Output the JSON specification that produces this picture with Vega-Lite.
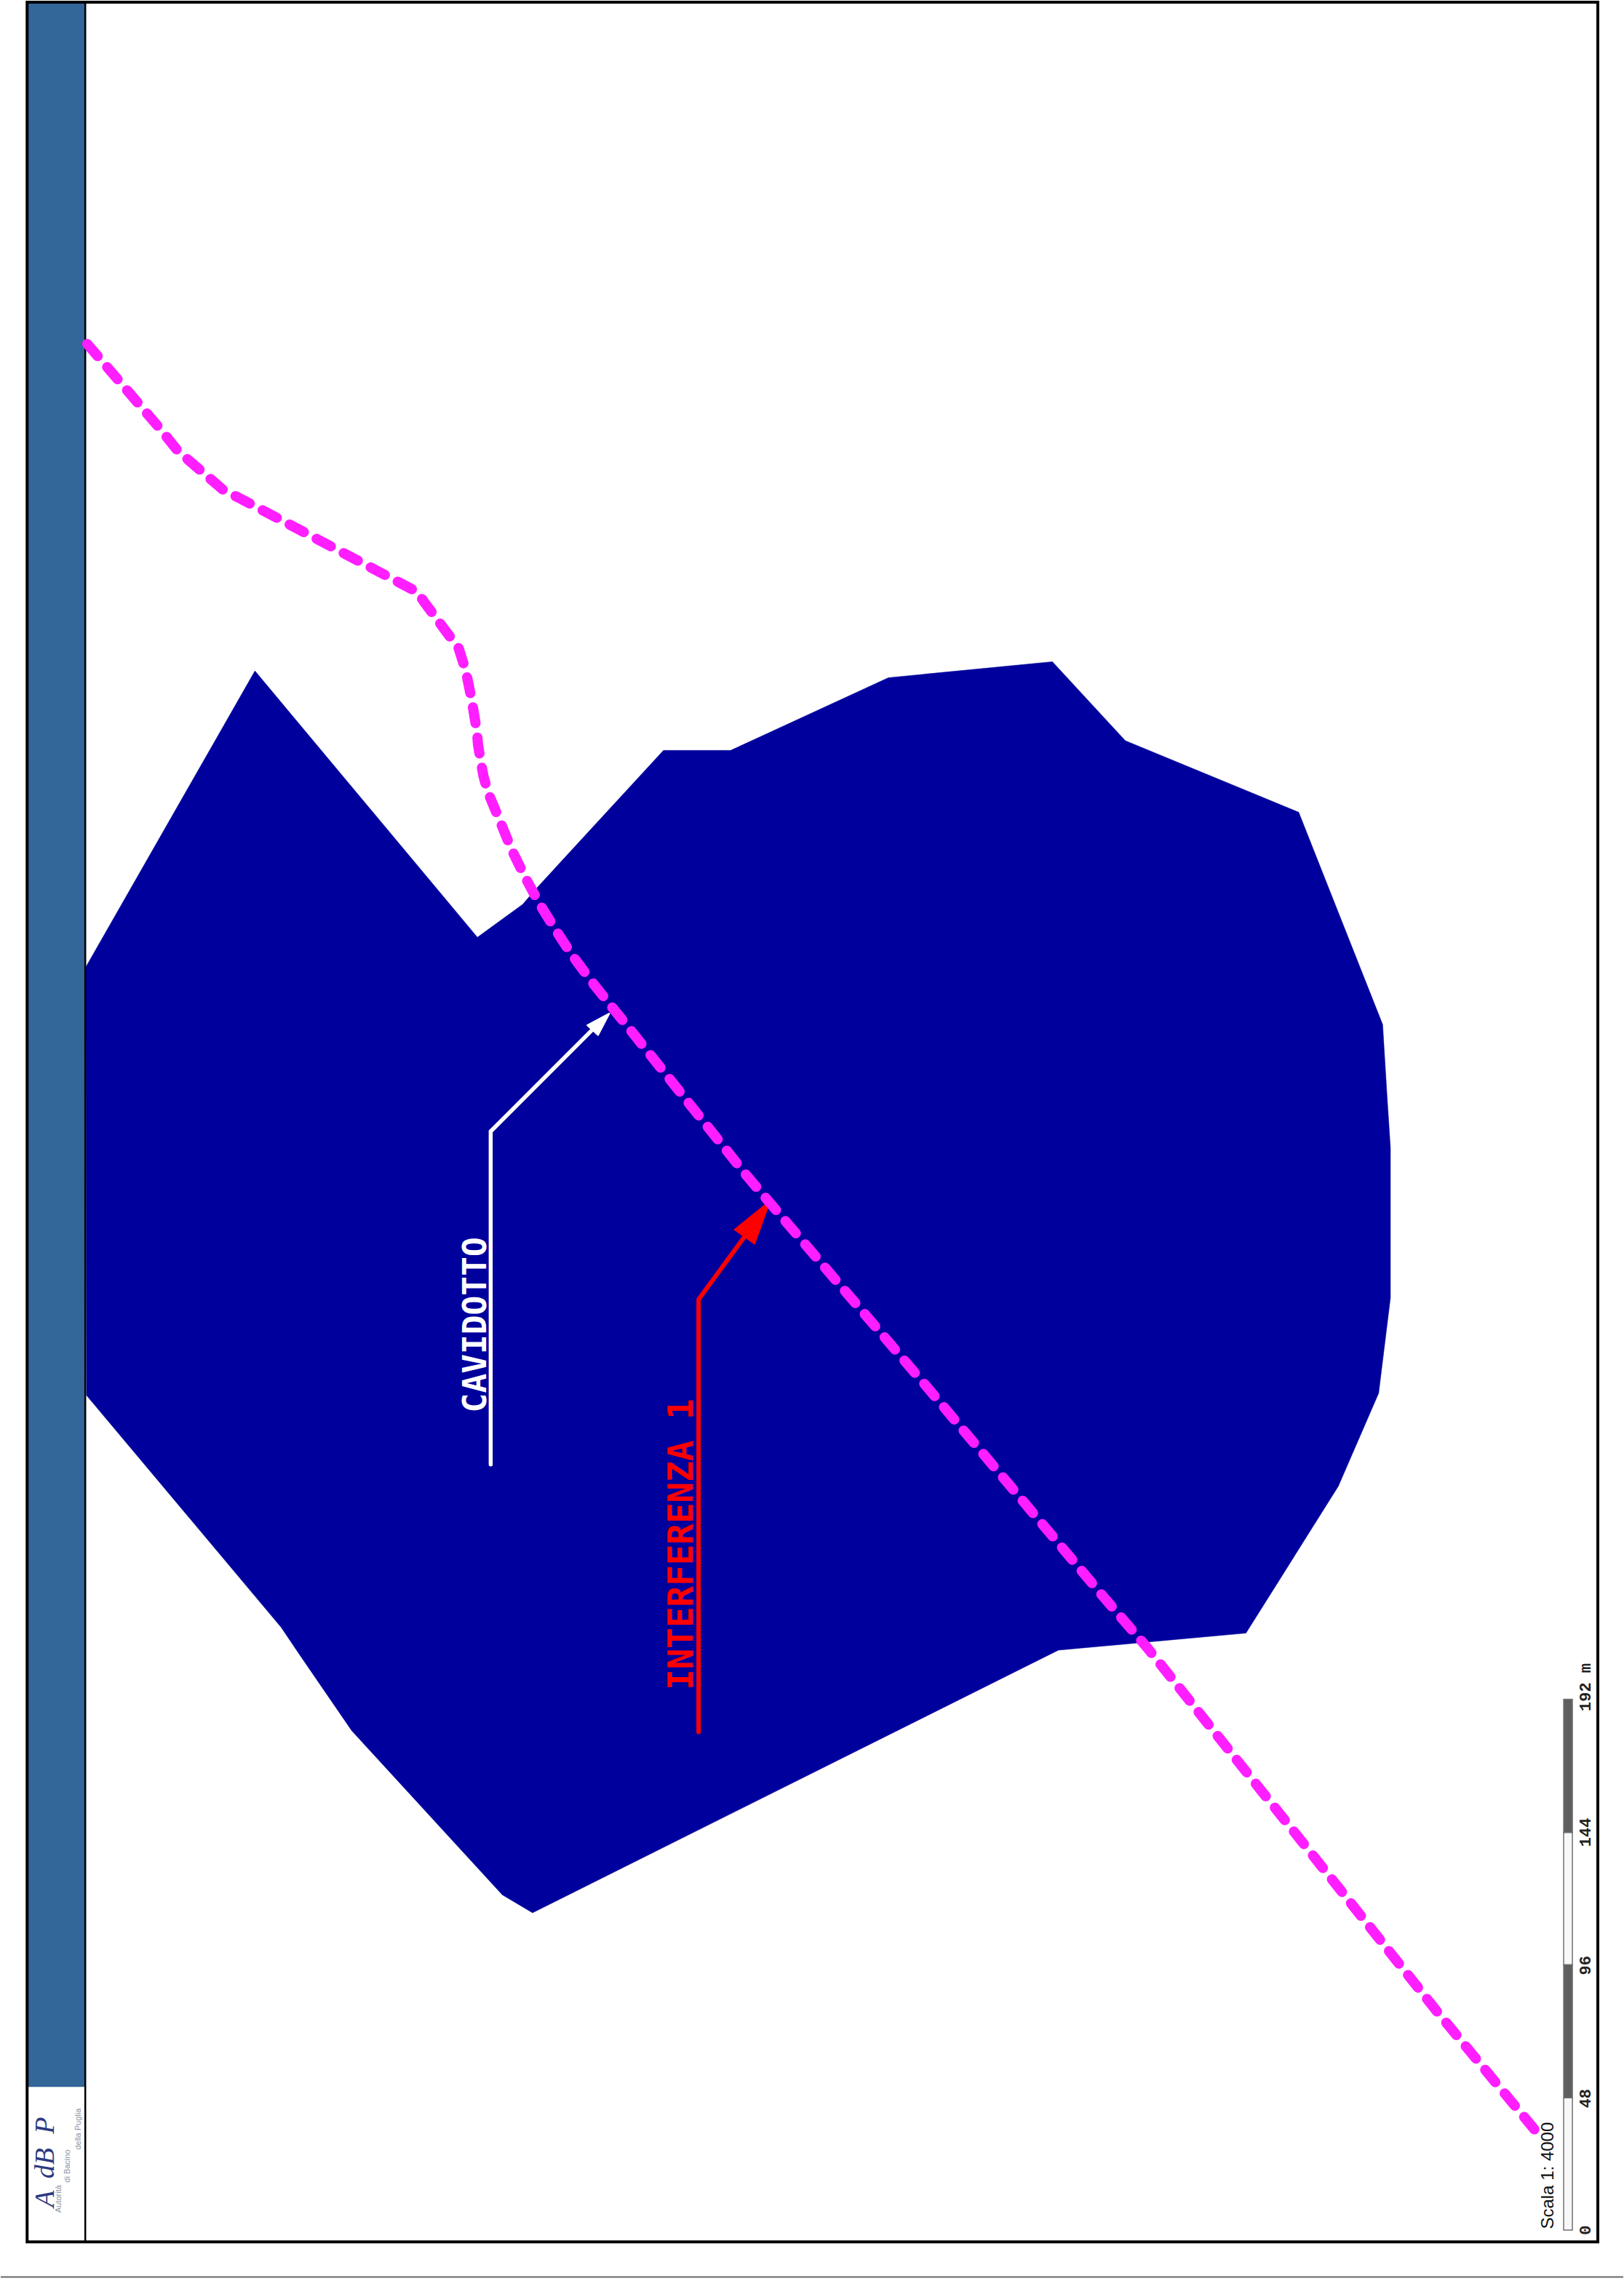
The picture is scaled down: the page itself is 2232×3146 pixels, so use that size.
{
"$schema":"https://vega.github.io/schema/vega-lite/v6.json",
"width":2232,"height":3146,"padding":0,
"autosize":{"type":"fit","contains":"padding"},
"background":"white",
"view":{"stroke":null},
"encoding":{
 "x":{"field":"x","type":"quantitative","axis":null,"scale":{"domain":[0,2232],"nice":false,"zero":false}},
 "y":{"field":"y","type":"quantitative","axis":null,"scale":{"domain":[0,3146],"nice":false,"zero":false,"reverse":true}}
},
"layer":[
 {"data":{"values":[{"part":"sidebar","x":38,"x2":116,"y":2,"y2":2868}]},
  "mark":{"type":"rect","fill":"#336699"},
  "encoding":{"x2":{"field":"x2"},"y2":{"field":"y2"}}},
 {"data":{"values":[
   {"i":0,"x":117,"y":1328},{"i":1,"x":349.7,"y":920.7},{"i":2,"x":655.7,"y":1287},{"i":3,"x":718,"y":1241.7},{"i":4,"x":736.7,"y":1220},{"i":5,"x":911.7,"y":1030},{"i":6,"x":1004,"y":1030},{"i":7,"x":1221,"y":930},{"i":8,"x":1446.7,"y":908},{"i":9,"x":1547,"y":1016.6},{"i":10,"x":1785.5,"y":1115},{"i":11,"x":1901,"y":1407},{"i":12,"x":1906.7,"y":1500},{"i":13,"x":1911.7,"y":1576.5},{"i":14,"x":1911.7,"y":1783},{"i":15,"x":1895.5,"y":1914},{"i":16,"x":1840,"y":2042},{"i":17,"x":1713,"y":2244},{"i":18,"x":1455,"y":2267.4},{"i":19,"x":731.6,"y":2628.6},{"i":20,"x":690,"y":2604},{"i":21,"x":482.7,"y":2378},{"i":22,"x":411,"y":2273.5},{"i":23,"x":385.7,"y":2236},{"i":24,"x":118,"y":1917},{"i":25,"x":117,"y":1328}]},
  "mark":{"type":"line","fill":"#00009c","stroke":"#00009c","strokeWidth":0.5},
  "encoding":{"order":{"field":"i","type":"quantitative"}}},
 {"data":{"values":[{"part":"frame","x":36.3,"x2":2197,"y":1,"y2":3081.3}]},
  "mark":{"type":"rect","fill":null,"stroke":"black","strokeWidth":4},
  "encoding":{"x2":{"field":"x2"},"y2":{"field":"y2"}}},
 {"data":{"values":[{"part":"divider","x":116.3,"y":0,"y2":3081}]},
  "mark":{"type":"rule","stroke":"black","strokeWidth":2.5},
  "encoding":{"y2":{"field":"y2"}}},
 {"data":{"values":[{"part":"footer","x":0,"x2":2232,"y":3129.5}]},
  "mark":{"type":"rule","stroke":"#666666","strokeWidth":2},
  "encoding":{"x2":{"field":"x2"}}},
 {"data":{"values":[{"i":0,"x":674,"y":2012},{"i":1,"x":674,"y":1554},{"i":2,"x":815,"y":1413}]},
  "mark":{"type":"line","stroke":"white","strokeWidth":5.5,"strokeCap":"round","strokeJoin":"miter"},
  "encoding":{"order":{"field":"i","type":"quantitative"}}},
 {"data":{"values":[{"i":0,"x":837.5,"y":1391.5},{"i":1,"x":806.7,"y":1408},{"i":2,"x":821.7,"y":1421.7},{"i":3,"x":837.5,"y":1391.5}]},
  "mark":{"type":"line","fill":"white","stroke":"white","strokeWidth":2,"strokeJoin":"round"},
  "encoding":{"order":{"field":"i","type":"quantitative"}}},
 {"data":{"values":[{"i":0,"x":960,"y":2380},{"i":1,"x":960,"y":1785},{"i":2,"x":1023,"y":1699}]},
  "mark":{"type":"line","stroke":"#ff0000","strokeWidth":6,"strokeCap":"round","strokeJoin":"miter"},
  "encoding":{"order":{"field":"i","type":"quantitative"}}},
 {"data":{"values":[{"i":0,"x":1058,"y":1650},{"i":1,"x":1009.5,"y":1689},{"i":2,"x":1037,"y":1708.5},{"i":3,"x":1058,"y":1650}]},
  "mark":{"type":"line","fill":"#ff0000","stroke":"#ff0000","strokeWidth":2,"strokeJoin":"round"},
  "encoding":{"order":{"field":"i","type":"quantitative"}}},
 {"data":{"values":[{"label":"CAVIDOTTO","x":655,"y":1820}]},
  "mark":{"type":"text","angle":270,"align":"center","baseline":"middle","font":"DejaVu Sans Mono","fontWeight":"bold","fontSize":44.5,"fill":"white"},
  "encoding":{"text":{"field":"label"}}},
 {"data":{"values":[{"label":"INTERFERENZA 1","x":938,"y":2122}]},
  "mark":{"type":"text","angle":270,"align":"center","baseline":"middle","font":"DejaVu Sans Mono","fontWeight":"bold","fontSize":47.5,"fill":"#ff0000"},
  "encoding":{"text":{"field":"label"}}},
 {"data":{"values":[{"seg":"a","x":2150,"x2":2162,"y":3065,"y2":2883},{"seg":"b","x":2150,"x2":2162,"y":2883,"y2":2700},{"seg":"a","x":2150,"x2":2162,"y":2700,"y2":2518},{"seg":"b","x":2150,"x2":2162,"y":2518,"y2":2335}]},
  "mark":{"type":"rect","stroke":"#707070","strokeWidth":1.5},
  "encoding":{"x2":{"field":"x2"},"y2":{"field":"y2"},
   "fill":{"field":"seg","type":"nominal","legend":null,"scale":{"domain":["a","b"],"range":["#f8f8f8","#5f5f5f"]}}}},
 {"data":{"values":[{"label":"0","x":2180,"y":3065},{"label":"48","x":2180,"y":2884},{"label":"96","x":2180,"y":2701},{"label":"144","x":2180,"y":2518},{"label":"192 m","x":2180,"y":2318.5}]},
  "mark":{"type":"text","angle":270,"align":"center","baseline":"middle","font":"Liberation Mono","fontWeight":"bold","fontSize":22,"fill":"#222222"},
  "encoding":{"text":{"field":"label"}}},
 {"data":{"values":[{"label":"Scala 1: 4000","x":2129,"y":2990}]},
  "mark":{"type":"text","angle":270,"align":"center","baseline":"middle","font":"Liberation Sans","fontSize":24,"fill":"#111111"},
  "encoding":{"text":{"field":"label"}}},
 {"data":{"values":[{"label":"A","x":62,"y":3022},{"label":"dB","x":62,"y":2973},{"label":"P","x":62,"y":2921}]},
  "mark":{"type":"text","angle":270,"align":"center","baseline":"middle","font":"Liberation Serif","fontStyle":"italic","fontSize":38,"fill":"#2b3a80"},
  "encoding":{"text":{"field":"label"}}},
 {"data":{"values":[{"label":"Autorità","x":80,"y":3022},{"label":"di Bacino","x":92,"y":2977},{"label":"della Puglia","x":107,"y":2926}]},
  "mark":{"type":"text","angle":270,"align":"center","baseline":"middle","font":"Liberation Sans","fontSize":11,"fill":"#8a93a3"},
  "encoding":{"text":{"field":"label"}}},
 {"data":{"values":[
   {"i":0,"x":119,"y":471},{"i":1,"x":217,"y":585},{"i":2,"x":243.5,"y":618},{"i":3,"x":308,"y":673.4},{"i":4,"x":326.5,"y":682},{"i":5,"x":572.6,"y":812},{"i":6,"x":584,"y":828},{"i":7,"x":630,"y":889.7},{"i":8,"x":639.6,"y":920},{"i":9,"x":648,"y":961},{"i":10,"x":655,"y":1004},{"i":11,"x":656.7,"y":1023},{"i":12,"x":660.7,"y":1047},{"i":13,"x":664,"y":1065},{"i":14,"x":670,"y":1087},{"i":15,"x":686.7,"y":1127},{"i":16,"x":703,"y":1167},{"i":17,"x":721.7,"y":1205},{"i":18,"x":741.7,"y":1242},{"i":19,"x":764,"y":1278},{"i":20,"x":787,"y":1313},{"i":21,"x":813,"y":1348},{"i":22,"x":840,"y":1382},{"i":23,"x":866.7,"y":1415},{"i":24,"x":1026.8,"y":1615.6},{"i":25,"x":1080,"y":1678},{"i":26,"x":1274.6,"y":1906},{"i":27,"x":1522,"y":2200},{"i":28,"x":1578,"y":2265},{"i":29,"x":1789.4,"y":2530},{"i":30,"x":1976,"y":2764.6},{"i":31,"x":2111,"y":2928}]},
  "mark":{"type":"line","stroke":"#ff1eff","strokeWidth":14,"strokeCap":"round","strokeJoin":"round","strokeDash":[22,20]},
  "encoding":{"order":{"field":"i","type":"quantitative"}}}
]}
